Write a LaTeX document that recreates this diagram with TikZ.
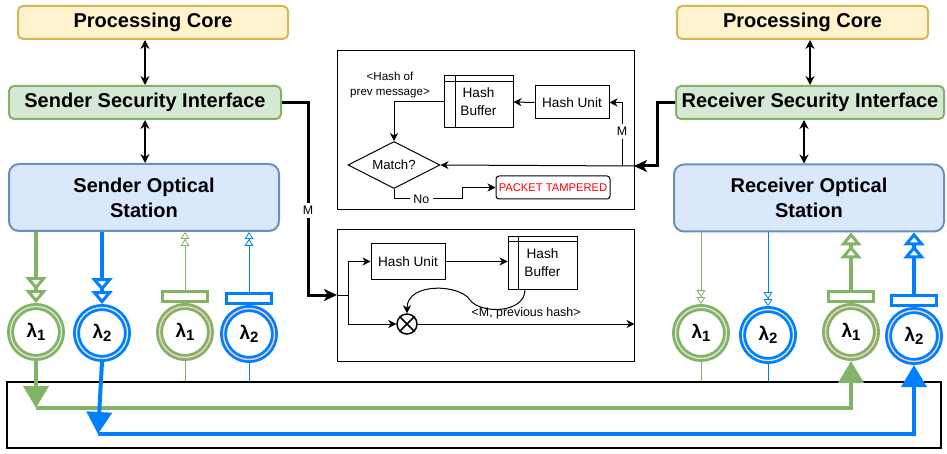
\documentclass[tikz,border=0pt]{standalone}
\usepackage{fontspec}
\setmainfont{Liberation Sans}
\usepackage{xcolor}
\usepackage{tikz}
\usetikzlibrary{positioning,arrows.meta,shapes.geometric}

\definecolor{corefill}{HTML}{FFF2CC}
\definecolor{coreline}{HTML}{D6B656}
\definecolor{iffill}{HTML}{D5E8D4}
\definecolor{ifline}{HTML}{82B366}
\definecolor{stfill}{HTML}{DAE8FC}
\definecolor{stline}{HTML}{6C8EBF}
\definecolor{lgreen}{HTML}{82B366}
\definecolor{lblue}{HTML}{007FFF}
\definecolor{ringg}{HTML}{D5E8D4}
\definecolor{ringp}{HTML}{F8CECC}
\definecolor{alert}{HTML}{FF0000}

\newcommand{\lamb}[1]{\fontsize{19}{19}\selectfont\bfseries λ\raisebox{-0.35ex}{\fontsize{15}{15}\selectfont #1}}

\begin{document}
\begin{tikzpicture}[x=1pt, y=-1pt,
  core/.style={draw=coreline, fill=corefill, rounded corners=5pt, line width=2pt,
               minimum height=33pt, font=\fontsize{20}{24}\selectfont\bfseries},
  iface/.style={draw=ifline, fill=iffill, rounded corners=5pt, line width=2pt,
               minimum height=33pt, inner sep=1pt, font=\fontsize{20}{24}\selectfont\bfseries},
  station/.style={draw=stline, fill=stfill, rounded corners=10pt, line width=2pt,
               minimum height=67pt, align=center, font=\fontsize{20}{25}\selectfont\bfseries},
  frame/.style={draw, line width=1pt, minimum width=297pt, inner sep=0pt},
  unit/.style={draw, line width=1pt, minimum width=74pt, minimum height=33pt,
               font=\fontsize{13.6}{16}\selectfont},
  buffer/.style={draw, line width=1pt, minimum width=69pt, minimum height=52pt,
               align=center, font=\fontsize{13.6}{18}\selectfont},
  small/.style={font=\fontsize{12.4}{15}\selectfont},
  laser/.style={circle, draw=#1, line width=2.8pt, double=ringg, double distance=1.4pt,
               fill=white, minimum size=51pt, inner sep=0pt, outer sep=3.5pt},
  detector/.style={circle, draw=#1, line width=2.8pt, double=ringp, double distance=1.4pt,
               fill=white, minimum size=51pt, inner sep=0pt, outer sep=3.5pt},
  rxbar/.style={draw=#1, line width=3pt, fill=white, minimum width=45pt,
               minimum height=10pt, inner sep=0pt},
  biarr/.style={{Stealth[length=9pt,width=9pt]}-{Stealth[length=9pt,width=9pt]}, line width=1.6pt},
  sarr/.style={-{Stealth[length=8pt,width=8pt,inset=2.5pt]}, line width=1pt},
  marr/.style={-{Stealth[length=13pt,width=12pt,inset=3.5pt]}, line width=3pt},
  fat/.style={line width=4pt, draw=#1},
  wire/.style={line width=0.9pt, draw=#1},
  bigtip/.style={-{Triangle[fill=white,length=13pt,width=21pt,line width=3pt]
                   Triangle[fill=white,length=13pt,width=21pt,line width=3pt]}},
  tinytip/.style={-{Triangle[fill=white,length=7pt,width=9pt,line width=0.8pt]
                    Triangle[fill=white,length=7pt,width=9pt,line width=0.8pt]}},
  droptip/.style={-{Triangle[length=22pt,width=25pt]}}
]
\useasboundingbox (0,0) rectangle (947,454);

%% --- Sender column ---
\node[core, minimum width=270pt] (score) at (153,22.5) {Processing Core};
\node[iface, minimum width=272pt] (ssec) at (145,102.5) {Sender Security Interface};
\node[station, minimum width=270pt] (sopt) at (144,197.5) {Sender Optical\\Station};
\draw[biarr] (ssec.north |- score.south) -- (ssec.north);
\draw[biarr] (ssec.south) -- (ssec.south |- sopt.north);

%% --- Receiver column ---
\node[core, minimum width=251pt] (rcore) at (802.5,22.5) {Processing Core};
\node[iface, minimum width=268pt] (rsec) at (810,102.5) {Receiver Security Interface};
\node[station, minimum width=270pt] (ropt) at (809,198) {Receiver Optical\\Station};
\draw[biarr] (rsec.north |- rcore.south) -- (rsec.north);
\draw[biarr] (804,120) coordinate (rs) -- (rs |- ropt.north);

%% --- Verification block (receiver) ---
\node[frame, minimum height=159pt] (vframe) at (485.5,130.5) {};
\node[buffer] (vbuf) at (478.5,102) {Hash\\Buffer};
\draw ([xshift=12pt]vbuf.north west) -- ([xshift=12pt]vbuf.south west);
\draw ([yshift=-6pt]vbuf.north west) -- ([yshift=-6pt]vbuf.north east);
\node[unit] (vhash) at (572,102.5) {Hash Unit};
\node[align=center, font=\fontsize{11.6}{15}\selectfont] (prevlbl) at (390,85)
  {<Hash of\\prev message>};
\node[diamond, draw, line width=1pt, minimum width=92pt, minimum height=47pt,
      inner sep=0pt, shape aspect=2, font=\fontsize{13.2}{16}\selectfont] (match) at (394,165) {Match?};
\node[draw, rounded corners=3pt, line width=1pt, minimum width=114pt, minimum height=23pt,
      inner sep=0pt, text=alert, font=\fontsize{11.2}{13}\selectfont] (tamper) at (553,187.5) {PACKET TAMPERED};
\coordinate (vin) at (634,166);
\coordinate (vsplit) at (622,166);
\draw[marr] (rsec.west) -- ++(-18,0) |- (vin);
\draw[sarr] (vin) -- (match.east);
\draw[sarr] (vsplit) |- node[pos=0.27, fill=white, small] {M} (vhash.east);
\draw[sarr] (vhash.west) -- (vbuf.east);
\draw[sarr] (vbuf.west) -| (match.north);
\draw[sarr] (match.south) -- ++(0,10) -| node[pos=0.2, fill=white, small] {No}
  ([xshift=-33pt]tamper.west) -- (tamper.west);

%% --- Signing block (sender) ---
\node[frame, minimum height=131pt] (sframe) at (485.5,295.5) {};
\node[unit, minimum height=35pt] (shash) at (408,261.5) {Hash Unit};
\node[buffer] (sbuf) at (542.5,263) {Hash\\Buffer};
\draw ([xshift=11pt]sbuf.north west) -- ([xshift=11pt]sbuf.south west);
\draw ([yshift=-5pt]sbuf.north west) -- ([yshift=-5pt]sbuf.north east);
\node[circle, draw, line width=1.5pt, minimum size=20pt, inner sep=0pt] (xor) at (407,324) {};
\draw[line width=1.5pt] (xor.north west) -- (xor.south east) (xor.north east) -- (xor.south west);
\coordinate (sin) at (337,295);
\coordinate (sjoin) at (348,295);
\draw[marr] (ssec.east) -- ++(26,0) |- node[pos=0.28, fill=white, small] {M} (sin);
\draw[line width=1pt] (sin) -- (sjoin);
\draw[sarr] (sjoin) |- (shash.west);
\draw[sarr] (sjoin) |- (xor.west);
\draw[sarr] (shash.east) -- (shash.east -| sbuf.west);
\draw[sarr] ([xshift=-17.5pt]sbuf.south) .. controls (525,314) and (480,314) .. (470,300)
  .. controls (460,284) and (407,282) .. (xor.north);
\draw[sarr] (xor.east) -- (xor.east -| sframe.east)
  node[midway, above=1pt, font=\fontsize{12.4}{15}\selectfont] {<M, previous hash>};

%% --- Fibre link ---
\node[draw, line width=2pt, minimum width=934pt, minimum height=66pt, inner sep=0pt] (fiber) at (474,415) {};

%% --- Sender optical channels ---
\node[laser=lgreen] (sl1) at (36,332) {\lamb{1}};
\node[laser=lblue] (sl2) at (102,333) {\lamb{2}};
\node[detector=lgreen] (sd1) at (185,332) {\lamb{1}};
\node[detector=lblue] (sd2) at (249,334) {\lamb{2}};
\node[rxbar=lgreen, above=0pt of sd1] (sbar1) {};
\node[rxbar=lblue, above=0pt of sd2] (sbar2) {};
\draw[fat=lgreen, bigtip] (sl1.north |- sopt.south) -- (sl1.north);
\draw[fat=lblue, bigtip] (sl2.north |- sopt.south) -- (sl2.north);
\draw[wire=lgreen, tinytip] (sbar1.north) -- (sbar1.north |- sopt.south);
\draw[wire=lblue, tinytip] (sbar2.north) -- (sbar2.north |- sopt.south);
\draw[wire=lgreen] (sd1.south) -- (sd1.south |- fiber.north);
\draw[wire=lblue] (sd2.south) -- (sd2.south |- fiber.north);

%% --- Receiver optical channels ---
\node[laser=lgreen] (rl1) at (701,333) {\lamb{1}};
\node[laser=lblue] (rl2) at (768,335) {\lamb{2}};
\node[detector=lgreen] (rd1) at (851,332) {\lamb{1}};
\node[detector=lblue] (rd2) at (914,336) {\lamb{2}};
\node[rxbar=lgreen, above=0pt of rd1] (rbar1) {};
\node[rxbar=lblue, above=0pt of rd2] (rbar2) {};
\draw[wire=lgreen, tinytip] (rl1.north |- ropt.south) -- (rl1.north);
\draw[wire=lblue, tinytip] (rl2.north |- ropt.south) -- (rl2.north);
\draw[fat=lgreen, bigtip] (rbar1.north) -- (rbar1.north |- ropt.south);
\draw[fat=lblue, bigtip] (rbar2.north) -- (rbar2.north |- ropt.south);
\draw[wire=lgreen] (rl1.south) -- (rl1.south |- fiber.north);
\draw[wire=lblue] (rl2.south) -- (rl2.south |- fiber.north);

%% --- Wavelength paths through the fibre ---
\coordinate (gbus) at (36,408);
\coordinate (bbus) at (98,434);
\draw[fat=lgreen, droptip] (sl1.south) -- (gbus);
\draw[fat=lgreen, droptip] (gbus) -| (rd1.south);
\draw[fat=lblue, droptip] (sl2.south) -- (bbus);
\draw[fat=lblue, droptip] (bbus) -| (rd2.south);
\end{tikzpicture}
\end{document}
